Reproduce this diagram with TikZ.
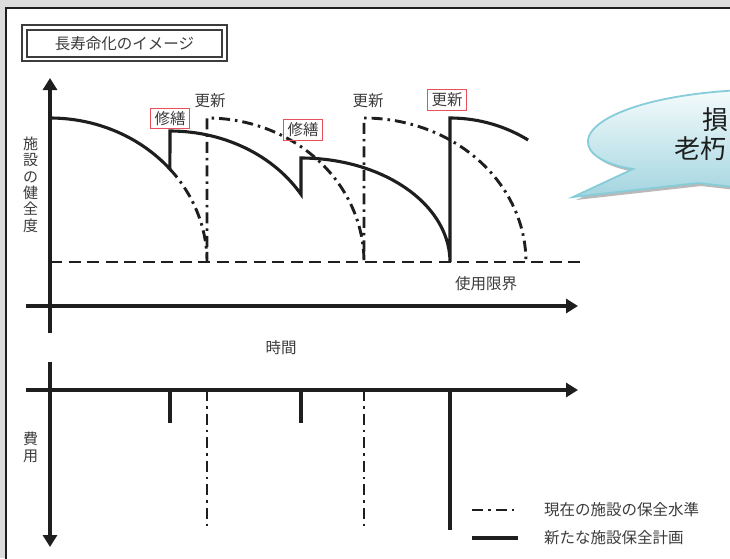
\documentclass[tikz,border=0pt]{standalone}
\usepackage{fontspec}
\setmainfont{Noto Sans CJK JP}
\usetikzlibrary{arrows.meta}
\definecolor{bggray}{HTML}{DCDCDC}
\definecolor{ink}{HTML}{1E1E1E}
\definecolor{txt}{HTML}{3C3C3C}
\definecolor{redb}{HTML}{E8505B}
\definecolor{cyanl}{HTML}{86CCD9}
\definecolor{bubtop}{HTML}{F4FBFC}
\definecolor{bubbot}{HTML}{A3D5E0}
\newcommand\bubpath{(573,197) -- (633,169) .. controls (606,165) and (586,154) .. (588,140) .. controls (590,120) and (640,95) .. (742,90) -- (742,188) .. controls (720,185) .. (698,183) -- cycle}
\begin{document}
\begin{tikzpicture}[x=1pt,y=-1pt,
  axis/.style={line width=4.2pt, color=ink, -{Triangle[length=12pt,width=14pt]}},
  sol/.style={line width=3.1pt,color=ink},
  dd/.style={line width=2.9pt,color=ink,dash pattern=on 11pt off 5pt on 2.5pt off 5pt},
  lim/.style={line width=2.9pt,color=ink,dash pattern=on 12pt off 6.5pt},
  lbl/.style={font=\fontsize{15.5}{17}\selectfont, text=txt, inner sep=1pt},
  redbox/.style={lbl, draw=redb, line width=1.2pt, inner xsep=4pt, inner ysep=3pt},
  vlbl/.style={font=\fontsize{15}{16.4}\selectfont, text=txt, align=center, inner sep=0pt},
]
\useasboundingbox (0,0) rectangle (730,558);
\begin{scope}
\clip (0,0) rectangle (730,558);
\fill[bggray] (0,0) rectangle (730,558);
\fill[white] (7,9) rectangle (740,570);
\draw[ink, line width=2pt] (6,570) -- (6,8) -- (740,8);

% callout
\fill[gray!55, shift={(3,3)}] \bubpath;
\shade[top color=bubtop, bottom color=bubbot] \bubpath;
\draw[cyanl, line width=1.8pt] \bubpath;
\node[anchor=west, font=\fontsize{26}{28}\selectfont, text=ink, inner sep=0pt] (t1) at (702,120) {損};
\node[anchor=west, font=\fontsize{26}{28}\selectfont, text=ink, inner sep=0pt] (t2) at (674,149) {老朽};

% title
\draw[txt, line width=1.4pt] (22,25) rectangle (227,61);
\draw[txt, line width=1.2pt] (27,30) rectangle (222,57);
\node[lbl] (title) at (124.5,43.5) {長寿命化のイメージ};

% limit line
\draw[lim] (50,262) -- (580,262);

% axes
\draw[axis] (50,333) -- (50,78);
\draw[axis] (26,306) -- (578,306);
\draw[axis] (50,362) -- (50,547);
\draw[axis] (26,390) -- (578,390);

% curves
\draw[sol] plot[domain=90:40.2,samples=40] ({50+157*cos(\x)},{262-144*sin(\x)})
  -- plot[domain=90:31.1,samples=40] ({170+153*cos(\x)},{262-131*sin(\x)})
  -- plot[domain=90:0,samples=50] ({301+149*cos(\x)},{262-104*sin(\x)})
  -- plot[domain=90:57.9,samples=30] ({450+147*cos(\x)},{262-144*sin(\x)});
\draw[dd] plot[domain=40.2:0,samples=30] ({50+157*cos(\x)},{262-144*sin(\x)})
  -- plot[domain=90:0,samples=50] ({207+157*cos(\x)},{262-144*sin(\x)})
  -- plot[domain=90:0,samples=50] ({364+162*cos(\x)},{262-144*sin(\x)});

% cost ticks
\draw[sol] (170,390) -- (170,423);
\draw[sol] (301,390) -- (301,423);
\draw[sol] (450,390) -- (450,530);
\draw[dd] (207,390) -- (207,528);
\draw[dd] (364,390) -- (364,528);

% labels
\node[lbl] (kou1) at (210,101) {更新};
\node[lbl] (kou2) at (368,101) {更新};
\node[redbox] (kou3) at (447,100) {更新};
\node[redbox] (shu1) at (170,118.5) {修繕};
\node[redbox] (shu2) at (303,130) {修繕};
\node[lbl] (time) at (281,348) {時間};
\node[lbl] (limit) at (486,284) {使用限界};
\node[vlbl] (health) at (30.5,184.5) {施\\設\\の\\健\\全\\度};
\node[vlbl] (cost) at (30.5,447.5) {費\\用};

% legend
\draw[dd] (472,510) -- (516,510);
\draw[sol] (472,538) -- (518,538);
\node[lbl, anchor=west] (leg1) at (543,510) {現在の施設の保全水準};
\node[lbl, anchor=west] (leg2) at (543,538) {新たな施設保全計画};
\end{scope}
\end{tikzpicture}
\end{document}
